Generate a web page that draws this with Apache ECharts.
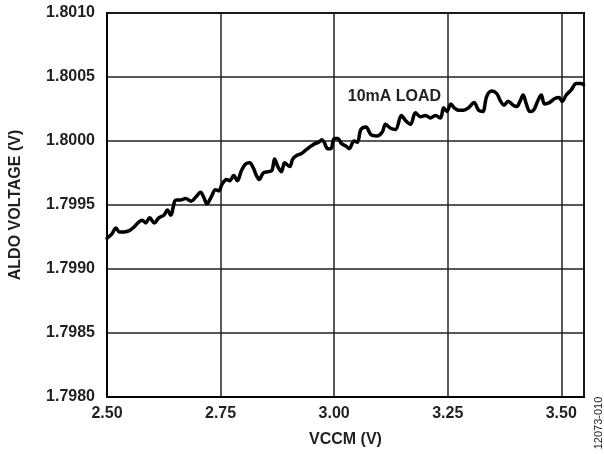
<!DOCTYPE html>
<html>
<head>
<meta charset="utf-8">
<script src="https://cdn.jsdelivr.net/npm/echarts@6/dist/echarts.min.js"></script>
<style>
html,body{margin:0;padding:0;background:#fff;}
#chart{width:604px;height:454px;}
</style>
</head>
<body>
<div id="chart"></div>
<script>
// VCCM (V)
var vccm = [2.500,2.510,2.520,2.527,2.538,2.549,2.560,2.571,2.578,2.585,2.594,2.604,2.614,2.625,2.633,2.640,2.649,2.654,2.663,2.673,2.685,2.695,2.706,2.713,2.720,2.729,2.739,2.746,2.753,2.763,2.770,2.779,2.787,2.796,2.805,2.814,2.822,2.829,2.835,2.844,2.854,2.863,2.869,2.876,2.884,2.891,2.902,2.909,2.919,2.927,2.938,2.949,2.958,2.966,2.973,2.978,2.986,2.993,3.000,3.008,3.016,3.026,3.033,3.044,3.051,3.059,3.070,3.081,3.095,3.106,3.113,3.124,3.135,3.148,3.157,3.168,3.179,3.190,3.201,3.212,3.223,3.234,3.241,3.248,3.257,3.264,3.274,3.285,3.296,3.308,3.318,3.327,3.336,3.347,3.358,3.365,3.374,3.383,3.394,3.402,3.409,3.416,3.423,3.431,3.439,3.449,3.456,3.463,3.474,3.485,3.495,3.502,3.511,3.522,3.533,3.544,3.549];
// ALDO voltage (V), 10mA load
var aldo = [1.79924,1.79927,1.79932,1.79929,1.79929,1.79930,1.79933,1.79937,1.79938,1.79936,1.79940,1.79936,1.79940,1.79942,1.79946,1.79942,1.79953,1.79954,1.79954,1.79955,1.79953,1.79956,1.79960,1.79956,1.79951,1.79956,1.79962,1.79961,1.79966,1.79970,1.79969,1.79973,1.79969,1.79977,1.79982,1.79983,1.79979,1.79973,1.79970,1.79975,1.79976,1.79977,1.79986,1.79980,1.79976,1.79983,1.79980,1.79986,1.79989,1.79990,1.79993,1.79996,1.79998,1.79999,1.80001,1.79999,1.79994,1.79994,1.80002,1.80002,1.79998,1.79996,1.79994,1.80000,1.79999,1.80009,1.80011,1.80005,1.80004,1.80007,1.80013,1.80010,1.80009,1.80020,1.80016,1.80013,1.80022,1.80019,1.80020,1.80018,1.80020,1.80018,1.80026,1.80023,1.80029,1.80026,1.80024,1.80024,1.80026,1.80030,1.80024,1.80023,1.80035,1.80039,1.80037,1.80032,1.80028,1.80031,1.80028,1.80027,1.80031,1.80036,1.80029,1.80023,1.80024,1.80032,1.80036,1.80029,1.80030,1.80033,1.80034,1.80031,1.80036,1.80040,1.80045,1.80045,1.80044];
var xTicks = [2.50, 2.75, 3.00, 3.25, 3.50];
var yTicks = [1.7980, 1.7985, 1.7990, 1.7995, 1.8000, 1.8005, 1.8010];
var seriesLabel = '10mA LOAD';
var labelAt = [3.030, 1.80035];
var xTitle = 'VCCM (V)';
var yTitle = 'ALDO VOLTAGE (V)';
var figId = '12073-010';

var FONT = '"Liberation Sans", Arial, sans-serif';
var TXT = '#231f20';

var pts = vccm.map(function (x, i) { return [x, aldo[i]]; });

var chart = echarts.init(document.getElementById('chart'), null, {renderer: 'canvas'});
chart.setOption({
  animation: false,
  backgroundColor: '#fff',
  grid: {left: 105, right: 20, top: 13, bottom: 57, show: true, borderColor: '#000', borderWidth: 2, backgroundColor: 'transparent'},
  xAxis: {
    type: 'value', min: xTicks[0], max: 3.55, interval: 0.25,
    name: xTitle, nameLocation: 'middle', nameGap: 35,
    nameTextStyle: {fontFamily: FONT, fontWeight: 'bold', fontSize: 16, color: TXT},
    axisLine: {show: true, lineStyle: {color: '#000', width: 2}},
    axisTick: {show: false},
    axisLabel: {
      margin: 9, fontFamily: FONT, fontWeight: 'bold', fontSize: 16, color: TXT,
      formatter: function (v) {
        for (var i = 0; i < xTicks.length; i++) { if (Math.abs(v - xTicks[i]) < 1e-6) return xTicks[i].toFixed(2); }
        return '';
      }
    },
    splitLine: {show: true, lineStyle: {color: '#222', width: 1.5}}
  },
  yAxis: {
    type: 'value', min: yTicks[0], max: yTicks[yTicks.length - 1], interval: 0.0005,
    name: yTitle, nameLocation: 'middle', nameGap: 83,
    nameTextStyle: {fontFamily: FONT, fontWeight: 'bold', fontSize: 16, color: TXT},
    axisLine: {show: true, lineStyle: {color: '#000', width: 2}},
    axisTick: {show: false},
    axisLabel: {
      margin: 12, fontFamily: FONT, fontWeight: 'bold', fontSize: 16, color: TXT,
      formatter: function (v) { return v.toFixed(4); }
    },
    splitLine: {show: true, lineStyle: {color: '#222', width: 1.5}}
  },
  series: [{
    type: 'line', data: pts, showSymbol: false, smooth: 0.35,
    lineStyle: {color: '#000', width: 3.5, join: 'round', cap: 'round'},
    z: 5
  }]
});

var p = chart.convertToPixel({gridIndex: 0}, labelAt);
chart.setOption({
  graphic: [
    {type: 'text', left: p[0], top: p[1] - 8, z: 10,
     style: {text: seriesLabel, font: 'bold 16px ' + FONT, fill: TXT}},
    {type: 'text', x: 599, y: 423, rotation: Math.PI / 2, z: 10,
     style: {text: figId, font: '11px ' + FONT, fill: TXT, align: 'center', verticalAlign: 'middle'}}
  ]
});
</script>
</body>
</html>
